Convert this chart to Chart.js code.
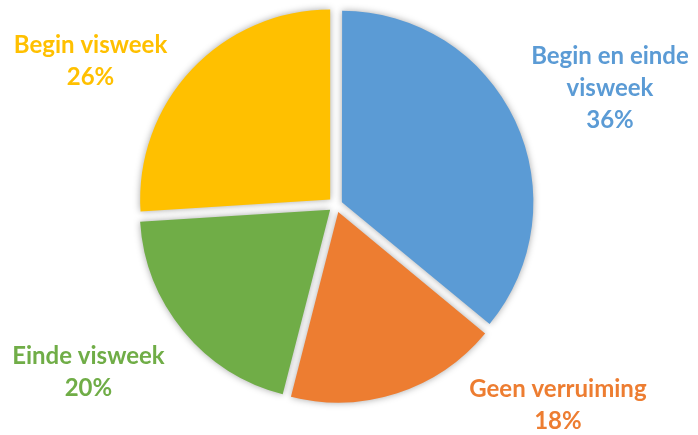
<!DOCTYPE html>
<html>
<head>
<meta charset="utf-8">
<script src="https://cdn.jsdelivr.net/npm/chart.js@4/dist/chart.umd.min.js"></script>
<style>
  html, body { margin: 0; padding: 0; background: #ffffff; }
  #wrap { width: 698px; height: 435px; position: relative; }
</style>
</head>
<body>
<div id="wrap"><canvas id="c" width="698" height="435"></canvas></div>
<script>
const categories = ['Begin en einde visweek', 'Geen verruiming', 'Einde visweek', 'Begin visweek'];
const labelLines = [['Begin en einde', 'visweek'], ['Geen verruiming'], ['Einde visweek'], ['Begin visweek']];
const values = [36, 18, 20, 26];
const colors = ['#5B9BD5', '#ED7D31', '#70AD47', '#FFC000'];

// label block centre, as fractions of the pie radius relative to the pie centre
const labelFactors = [[1.442, -0.616], [1.168, 1.053], [-1.303, 0.882], [-1.292, -0.758]];

// Chart.js v4 draws arcs at offset/4 * (1 + (1 - sin(circumference))) ; aim for ~8px explode
const explodePx = 8;
const offsets = values.map(v => {
  const circ = v / values.reduce((a, b) => a + b, 0) * Math.PI * 2;
  const fix = 1 - Math.sin(Math.min(Math.PI, circ));
  return explodePx * 4 / (1 + fix);
});

const shadowPlugin = {
  id: 'shadow',
  beforeDatasetsDraw(chart) {
    const ctx = chart.ctx;
    ctx.save();
    ctx.shadowColor = 'rgba(0,0,0,0.35)';
    ctx.shadowBlur = 7;
    ctx.shadowOffsetX = 0;
    ctx.shadowOffsetY = 0;
  },
  afterDatasetsDraw(chart) {
    chart.ctx.restore();
  }
};

const labelPlugin = {
  id: 'sliceLabels',
  afterDraw(chart) {
    const ctx = chart.ctx;
    const meta = chart.getDatasetMeta(0);
    const total = values.reduce((a, b) => a + b, 0);
    ctx.save();
    ctx.font = 'bold 24px Lato';
    ctx.textAlign = 'center';
    ctx.textBaseline = 'middle';
    const lh = 32;
    meta.data.forEach((arc, i) => {
      const p = arc.getProps(['x', 'y', 'outerRadius'], true);
      const R = p.outerRadius;
      const lx = p.x + labelFactors[i][0] * R;
      const ly = p.y + labelFactors[i][1] * R;
      const lines = labelLines[i].concat([Math.round(values[i] / total * 100) + '%']);
      const y0 = ly - (lines.length - 1) * lh / 2;
      ctx.fillStyle = colors[i];
      lines.forEach((t, k) => ctx.fillText(t, lx, y0 + k * lh));
    });
    ctx.restore();
  }
};

new Chart(document.getElementById('c'), {
  type: 'pie',
  data: {
    labels: categories,
    datasets: [{
      data: values,
      backgroundColor: colors,
      borderWidth: 0,
      offset: offsets,
      hoverOffset: 0
    }]
  },
  options: {
    responsive: false,
    animation: false,
    radius: 190,
    layout: { padding: { left: 0, right: 26, top: 0, bottom: 25 } },
    plugins: {
      legend: { display: false },
      tooltip: { enabled: false }
    },
    events: []
  },
  plugins: [shadowPlugin, labelPlugin]
});
</script>
</body>
</html>
